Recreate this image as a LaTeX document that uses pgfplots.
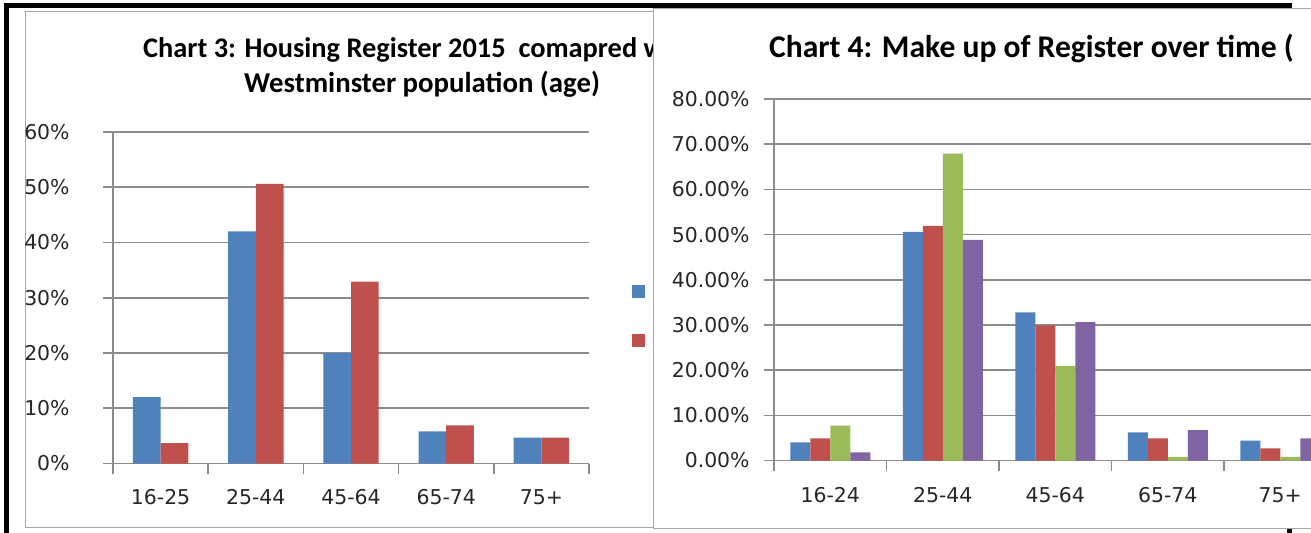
\documentclass[border=0pt]{standalone}
\usepackage{fontspec}
\setmainfont{DejaVu Sans}
\newfontfamily\titlefont{Carlito}
\usepackage{pgfplots}
\pgfplotsset{compat=1.18}

% Excel 2007 palette
\definecolor{xlBlue}{HTML}{4F81BD}
\definecolor{xlRed}{HTML}{C0504D}
\definecolor{xlGreen}{HTML}{9BBB59}
\definecolor{xlPurple}{HTML}{8064A2}
\definecolor{gridGrey}{HTML}{8C8C8C}
\definecolor{frameGrey}{HTML}{A6A6A6}

\pgfplotsset{
  xlsq/.style={legend image code/.code={\fill[##1] (0pt,-3.2pt) rectangle (6.5pt,3.2pt);}},
  xlchart/.style={
    scale only axis, anchor=south west, clip=false,
    axis x line*=bottom, axis y line*=left,
    axis line style={gridGrey, line width=0.8pt},
    ymajorgrids, grid style={gridGrey, line width=0.8pt},
    xmin=0.5, xmax=5.5, ymin=0,
    xtick={0.5,1.5,...,5.5}, xticklabels={},
    extra x ticks={1,2,3,4,5},
    extra x tick style={major tick length=0pt},
    tick align=outside, major tick length=5pt,
    tick style={gridGrey, line width=0.8pt},
    ybar=0pt,
    tick label style={font=\fontsize{10.2}{12}\selectfont, text=black!85},
    xticklabel style={inner sep=0pt, anchor=north, yshift=-12.75pt},
    yticklabel style={inner sep=0pt, anchor=east},
    /pgf/number format/assume math mode=true,
  }
}

\begin{document}
\begin{tikzpicture}
\useasboundingbox (0pt,0pt) rectangle (655.5pt,-266pt);
\clip (0pt,0pt) rectangle (655.5pt,-266pt);

% === marcos (1 px = 0.5pt) ===
\begin{scope}[x=0.5pt, y=-0.5pt]
  \draw[black, line width=2.5pt] (6,5.5) rectangle (1289,560);
  \filldraw[fill=white, draw=frameGrey, line width=0.5pt] (25,11) rectangle (720,527);
  \node[anchor=base, font=\titlefont\bfseries\fontsize{14.2}{17}\selectfont]
    at (420,57) {Chart 3: Housing Register 2015\ \ comapred with};
  \node[anchor=base, font=\titlefont\bfseries\fontsize{14.4}{17}\selectfont]
    at (422,92.5) {Westminster population (age)};
\end{scope}

% === Chart 3 ===
\begin{axis}[xlchart,
    at={(56.5pt,-231.75pt)},
    width=238pt, height=165.75pt,
    ymax=60, ytick={0,10,...,60},
    yticklabel={\pgfmathprintnumber{\tick}\%},
    yticklabel style={xshift=-16.5pt},
    extra x tick labels={16-25,25-44,45-64,65-74,75+},
    bar width=13.85pt,
    legend style={at={(1.0903,0.445)}, anchor=west, draw=none, fill=none,
      inner sep=0pt, row sep=18pt, font=\fontsize{10.2}{12}\selectfont},
    legend cell align=left,
]
\addplot[fill=xlBlue, draw=none, xlsq] coordinates {(1,12) (2,42) (3,20) (4,5.8) (5,4.7)};
\addlegendentry{}
\addplot[fill=xlRed, draw=none, xlsq] coordinates {(1,3.7) (2,50.6) (3,32.9) (4,6.9) (5,4.7)};
\addlegendentry{}
\end{axis}

\begin{scope}[x=0.5pt, y=-0.5pt]
  \filldraw[fill=white, draw=frameGrey, line width=0.5pt] (653,8) rectangle (1340,528);
  \node[anchor=base west, font=\titlefont\bfseries\fontsize{15.8}{18}\selectfont]
    at (762,57) {Chart 4: Make up of Register over time (};
\end{scope}

% === Chart 4 ===
\begin{axis}[xlchart,
    at={(387pt,-230.25pt)},
    width=281.25pt, height=180.75pt,
    ymax=80, ytick={0,10,...,80},
    yticklabel={\pgfmathprintnumber[fixed,fixed zerofill,precision=2]{\tick}\%},
    yticklabel style={xshift=-7pt},
    extra x tick labels={16-24,25-44,45-64,65-74,75+},
    xticklabel style={yshift=-0.5pt},
    bar width=10pt,
]
\addplot[fill=xlBlue, draw=none] coordinates {(1,4.0) (2,50.6) (3,32.8) (4,6.2) (5,4.4)};
\addplot[fill=xlRed, draw=none] coordinates {(1,4.9) (2,51.9) (3,29.9) (4,4.9) (5,2.7)};
\addplot[fill=xlGreen, draw=none] coordinates {(1,7.7) (2,67.9) (3,20.9) (4,0.8) (5,0.8)};
\addplot[fill=xlPurple, draw=none] coordinates {(1,1.8) (2,48.8) (3,30.6) (4,6.7) (5,4.9)};
\end{axis}
\end{tikzpicture}
\end{document}
